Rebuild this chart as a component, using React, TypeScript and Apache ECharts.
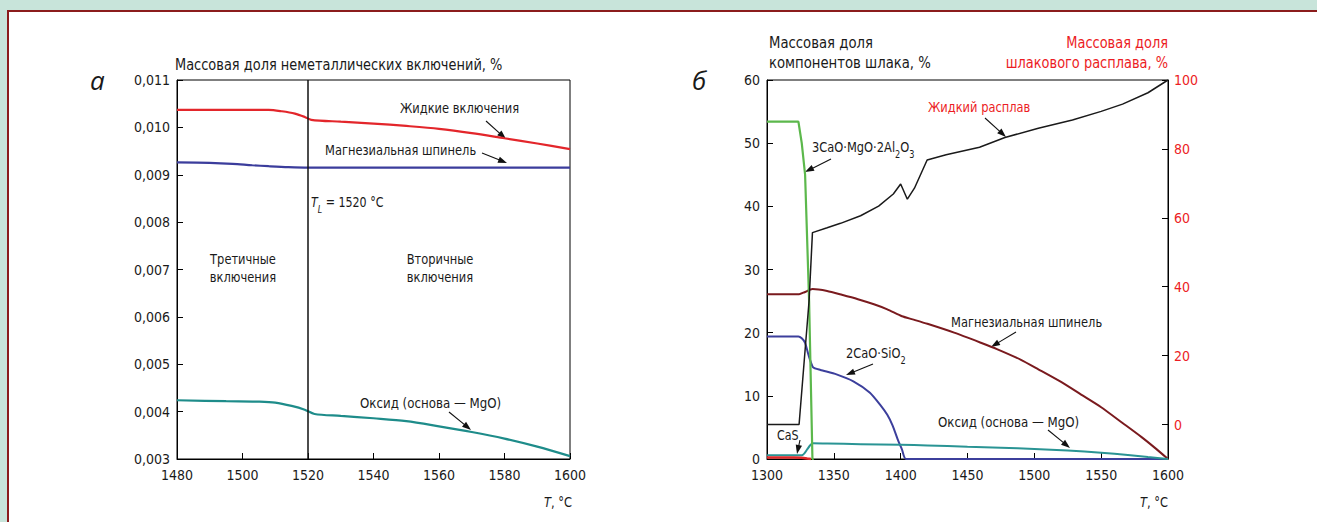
import React, { useEffect, useRef } from "react";
import * as echarts from "echarts";

// ---------- Data: chart (а) ----------
const aLiquidT = [1480, 1500, 1508, 1512, 1516, 1519, 1521, 1530, 1540, 1550, 1560, 1570, 1580, 1590, 1600];
const aLiquidV = [0.01037, 0.01037, 0.01037, 0.01034, 0.01029, 0.01022, 0.01016, 0.01012, 0.01008, 0.01003, 0.00997, 0.00988, 0.00977, 0.00966, 0.00954];
const aSpinelT = [1480, 1490, 1497, 1503, 1508, 1514, 1520, 1600];
const aSpinelV = [0.00926, 0.00925, 0.00923, 0.0092, 0.00918, 0.00916, 0.00915, 0.00915];
const aOxideT = [1480, 1495, 1505, 1510, 1515, 1519, 1522, 1530, 1540, 1550, 1560, 1570, 1580, 1590, 1600];
const aOxideV = [0.00424, 0.00422, 0.00421, 0.00419, 0.00412, 0.00404, 0.00395, 0.00391, 0.00386, 0.0038, 0.00369, 0.00357, 0.00343, 0.00326, 0.00306];
const aLiquidusT = 1520;

// ---------- Data: chart (б) ----------
const bGreenT = [1300, 1323.5, 1326, 1328.5, 1331.5, 1334, 1335];
const bGreenV = [53.4, 53.4, 50, 45, 25, 0, 0];
const bMeltT = [1300, 1324, 1331.5, 1334, 1345, 1355, 1370, 1383.5, 1394.5, 1400, 1405, 1410.3, 1419.8, 1434, 1459, 1478, 1503, 1528.5, 1550, 1566, 1585, 1600];
const bMeltV = [0, 0, 36, 55.7, 57.1, 58.4, 60.6, 63.4, 66.9, 69.8, 65.4, 68.6, 76.8, 78.3, 80.5, 83.3, 86, 88.4, 90.9, 93.0, 96.3, 100];
const bSpinelT = [1300, 1324, 1328, 1334, 1345, 1356, 1368, 1380, 1390, 1401, 1409, 1420, 1440, 1460, 1472, 1490, 1503, 1520, 1535, 1550, 1566, 1580, 1590, 1600];
const bSpinelV = [26.1, 26.1, 26.4, 26.9, 26.6, 26.0, 25.3, 24.5, 23.7, 22.6, 22.1, 21.4, 20.0, 18.4, 17.4, 15.7, 14.2, 12.2, 10.2, 8.2, 5.7, 3.5, 1.8, 0];
const bSilicateT = [1300, 1323.5, 1326, 1328.5, 1331, 1334.5, 1340, 1352, 1364.6, 1377, 1385, 1390, 1394, 1398, 1401, 1404, 1600];
const bSilicateV = [19.4, 19.4, 19.1, 18.4, 16.5, 14.5, 14.1, 13.4, 12.3, 10.5, 8.5, 7.0, 5.3, 3.0, 1.5, 0, 0];
const bOxideT = [1300, 1326, 1328, 1330, 1332, 1334, 1345, 1370, 1400, 1420, 1450, 1475, 1500, 1525, 1550, 1570, 1585, 1600];
const bOxideV = [0.6, 0.6, 0.9, 1.5, 2.1, 2.5, 2.45, 2.35, 2.25, 2.15, 1.95, 1.8, 1.6, 1.35, 1.0, 0.65, 0.3, 0];
const bCaST = [1300, 1320, 1326, 1330, 1333];
const bCaSV = [0.25, 0.25, 0.2, 0.08, 0];

const zip = (xs: number[], ys: number[]) => xs.map((x, i) => [x, ys[i]]);

const FONT = '"DejaVu Sans Condensed", "Liberation Sans Narrow", "Arial Narrow", sans-serif';
const RED_TEXT = "#ec1c24";
const INK = "#1a1a1a";

function txt(x: number, y: number, text: string, opts: any = {}) {
  const fs = opts.fontSize || 14;
  return {
    type: "text",
    x,
    y,
    scaleX: opts.scaleX ?? 0.91,
    silent: true,
    style: {
      text,
      fill: opts.fill || INK,
      fontSize: fs,
      fontFamily: opts.fontFamily || FONT,
      fontStyle: opts.fontStyle || "normal",
      textAlign: opts.align || "left",
      textVerticalAlign: "middle",
      lineHeight: opts.lineHeight || 19,
      rich: opts.rich,
    },
  };
}

const RICH = {
  n: { fontSize: 14, fontFamily: FONT, lineHeight: 18, verticalAlign: "top", fill: INK },
  i: { fontSize: 14, fontFamily: FONT, fontStyle: "italic", lineHeight: 18, verticalAlign: "top", fill: INK },
  s: { fontSize: 10, fontFamily: FONT, verticalAlign: "bottom", fill: INK },
  si: { fontSize: 10, fontFamily: FONT, fontStyle: "italic", verticalAlign: "bottom", fill: INK },
};

function arrow(x1: number, y1: number, x2: number, y2: number) {
  const a = Math.atan2(y2 - y1, x2 - x1);
  const L = 9, W = 3.2;
  const c = Math.cos(a), s = Math.sin(a);
  const bx = x2 - L * c, by = y2 - L * s;
  return [
    { type: "line", silent: true, shape: { x1, y1, x2: bx + 1 * c, y2: by + 1 * s }, style: { stroke: "#111", lineWidth: 1.1 } },
    {
      type: "polygon",
      silent: true,
      shape: { points: [[x2, y2], [bx + W * s, by - W * c], [bx - W * s, by + W * c]] },
      style: { fill: "#111" },
    },
  ];
}

const axisCommon = {
  axisLine: { onZero: false, lineStyle: { color: "#000", width: 1 } },
  axisTick: { inside: true, length: 6, lineStyle: { color: "#000", width: 1 } },
  splitLine: { show: false },
};

export default function App() {
  const ref = useRef<HTMLDivElement>(null);

  useEffect(() => {
    document.body.style.margin = "0";
    if (!ref.current) return;
    const chart = echarts.init(ref.current, undefined, { renderer: "svg" });

    const labelStyle = { color: INK, fontSize: 14, fontFamily: FONT };

    const option: any = {
      animation: false,
      backgroundColor: "transparent",
      grid: [
        { left: 177, top: 80, width: 393, height: 379, show: true, borderColor: "#000", borderWidth: 1, backgroundColor: "transparent" },
        { left: 767, top: 80, width: 401, height: 379, show: true, borderColor: "#000", borderWidth: 1, backgroundColor: "transparent" },
      ],
      xAxis: [
        { gridIndex: 0, type: "value", min: 1480, max: 1600, interval: 20, ...axisCommon, axisLabel: { ...labelStyle, margin: 9, formatter: (v: number) => String(v) } },
        { gridIndex: 1, type: "value", min: 1300, max: 1600, interval: 50, ...axisCommon, axisLabel: { ...labelStyle, margin: 9, formatter: (v: number) => String(v) } },
      ],
      yAxis: [
        {
          gridIndex: 0, type: "value", min: 0.003, max: 0.011, interval: 0.001, ...axisCommon,
          axisLabel: { ...labelStyle, margin: 7, formatter: (v: number) => v.toFixed(3).replace(".", ",") },
        },
        {
          gridIndex: 1, type: "value", min: 0, max: 60, interval: 10, ...axisCommon,
          axisLabel: { ...labelStyle, margin: 7, formatter: (v: number) => String(v) },
        },
        {
          gridIndex: 1, type: "value", position: "right", min: -10, max: 100, splitNumber: 5, ...axisCommon,
          axisLabel: { ...labelStyle, color: RED_TEXT, margin: 6, formatter: (v: number) => (v < 0 ? "" : String(Math.round(v))) },
        },
      ],
      series: [
        {
          name: "Жидкие включения", type: "line", xAxisIndex: 0, yAxisIndex: 0, showSymbol: false, smooth: 0.3,
          data: zip(aLiquidT, aLiquidV), lineStyle: { color: "#e3262b", width: 2.2 },
          markLine: {
            silent: true, symbol: ["none", "none"], label: { show: false },
            lineStyle: { color: "#111", width: 1.5, type: "solid" },
            data: [{ xAxis: aLiquidusT }],
          },
        },
        {
          name: "Магнезиальная шпинель", type: "line", xAxisIndex: 0, yAxisIndex: 0, showSymbol: false, smooth: 0.3,
          data: zip(aSpinelT, aSpinelV), lineStyle: { color: "#3b3d9c", width: 2.2 },
        },
        {
          name: "Оксид (основа — MgO)", type: "line", xAxisIndex: 0, yAxisIndex: 0, showSymbol: false, smooth: 0.3,
          data: zip(aOxideT, aOxideV), lineStyle: { color: "#1e8c8a", width: 2.2 },
        },
        {
          name: "2CaO·SiO2", type: "line", xAxisIndex: 1, yAxisIndex: 1, showSymbol: false, smooth: 0.2,
          data: zip(bSilicateT, bSilicateV), lineStyle: { color: "#3c3f9c", width: 2 },
        },
        {
          name: "Магнезиальная шпинель б", type: "line", xAxisIndex: 1, yAxisIndex: 1, showSymbol: false, smooth: 0.2,
          data: zip(bSpinelT, bSpinelV), lineStyle: { color: "#7a1a1e", width: 2 },
        },
        {
          name: "Оксид б", type: "line", xAxisIndex: 1, yAxisIndex: 1, showSymbol: false, smooth: 0.2,
          data: zip(bOxideT, bOxideV), lineStyle: { color: "#2a9494", width: 2 },
        },
        {
          name: "CaS", type: "line", xAxisIndex: 1, yAxisIndex: 1, showSymbol: false,
          data: zip(bCaST, bCaSV), lineStyle: { color: "#e02828", width: 2.5 },
        },
        {
          name: "3CaO·MgO·2Al2O3", type: "line", xAxisIndex: 1, yAxisIndex: 1, showSymbol: false,
          data: zip(bGreenT, bGreenV), lineStyle: { color: "#5cb84c", width: 2.2 },
        },
        {
          name: "Жидкий расплав", type: "line", xAxisIndex: 1, yAxisIndex: 2, showSymbol: false,
          data: zip(bMeltT, bMeltV), lineStyle: { color: "#1a1a1a", width: 1.5 },
        },
      ],
      graphic: [
        // Chart а
        txt(175, 65, "Массовая доля неметаллических включений, %", { fontSize: 16, scaleX: 0.9 }),
        txt(90, 80, "а", { fontSize: 26, fontStyle: "italic", fontFamily: '"Open Sans", sans-serif', scaleX: 1 }),
        txt(400, 108, "Жидкие включения"),
        ...arrow(486, 121, 506, 139),
        txt(325, 150, "Магнезиальная шпинель"),
        ...arrow(482, 153, 507, 163),
        txt(311, 205, "{i|T}{si|L}{n| = 1520 °C}", { rich: RICH, scaleX: 0.88 }),
        txt(243, 268, "Третичные\nвключения", { align: "center", lineHeight: 18 }),
        txt(440, 268, "Вторичные\nвключения", { align: "center", lineHeight: 18 }),
        txt(360, 403, "Оксид (основа — MgO)", { scaleX: 0.94 }),
        ...arrow(449, 412, 471, 430),
        txt(572, 504, "{i|T}{n|, °C}", { align: "right", rich: RICH }),
        // Chart б
        txt(692, 80, "б", { fontSize: 26, fontStyle: "italic", fontFamily: '"Open Sans", sans-serif', scaleX: 1 }),
        txt(769, 53, "Массовая доля\nкомпонентов шлака, %", { fontSize: 16, lineHeight: 20, scaleX: 0.92 }),
        txt(1168, 53, "Массовая доля\nшлакового расплава, %", { fontSize: 16, align: "right", lineHeight: 20, fill: RED_TEXT, scaleX: 0.9 }),
        txt(928, 107, "Жидкий расплав", { fill: RED_TEXT }),
        ...arrow(985, 118, 1006, 137),
        txt(812, 150, "{n|3CaO·MgO·2Al}{s|2}{n|O}{s|3}", { rich: RICH }),
        ...arrow(831, 159, 805, 172),
        txt(951, 322, "Магнезиальная шпинель"),
        ...arrow(1016, 332, 991, 347),
        txt(846, 356, "{n|2CaO·SiO}{s|2}", { rich: RICH }),
        ...arrow(873, 364, 846, 375),
        txt(938, 422, "Оксид (основа — MgO)", { scaleX: 0.94 }),
        ...arrow(1048, 430, 1070, 448),
        txt(777, 435, "CaS", { scaleX: 0.88 }),
        ...arrow(800, 440, 797, 454),
        txt(1168, 504, "{i|T}{n|, °C}", { align: "right", rich: RICH }),
      ],
    };

    chart.setOption(option);
    return () => chart.dispose();
  }, []);

  return (
    <div style={{ position: "relative", width: 1317, height: 522, background: "#c8e4da", overflow: "hidden" }}>
      <div
        style={{
          position: "absolute", left: 7, top: 10, width: 1320, height: 520, background: "#fff",
          borderTop: "2px solid #8b1c1c", borderLeft: "2px solid #8b1c1c",
        }}
      />
      <div ref={ref} style={{ position: "absolute", left: 0, top: 0, width: 1317, height: 522 }} />
    </div>
  );
}
